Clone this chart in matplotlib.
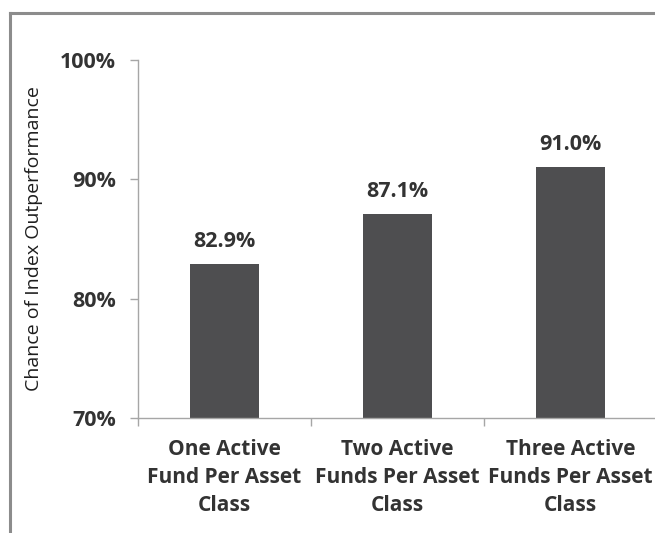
import matplotlib.pyplot as plt
from matplotlib.lines import Line2D
import numpy as np

categories = ["One Active\nFund Per Asset\nClass",
              "Two Active\nFunds Per Asset\nClass",
              "Three Active\nFunds Per Asset\nClass"]
values = [82.9, 87.1, 91.0]
y_ticks = [70, 80, 90, 100]

plt.rcParams['font.family'] = ['Open Sans', 'DejaVu Sans']
text_color = '#333333'
bar_color = '#4e4e50'
axis_color = '#a6a6a6'

fig = plt.figure(figsize=(6.55, 5.33), dpi=100)
ax = fig.add_axes([0.2107, 0.2158, 0.7925, 0.6716])

x = np.arange(len(values))
ax.bar(x, values, width=0.4, color=bar_color, bottom=0)
ax.set_ylim(70, 100)
ax.set_xlim(-0.5, len(values) - 0.5)

for xi, v in zip(x, values):
    ax.text(xi, v + 1.0, f"{v:.1f}%", ha='center', va='bottom',
            fontsize=15.5, fontweight='bold', color=text_color)

ax.set_yticks(y_ticks)
ax.set_yticklabels([f"{t}%" for t in y_ticks], fontsize=15.5,
                   fontweight='bold', color=text_color)
ax.tick_params(axis='y', length=6, width=1, color=axis_color, pad=10)

ax.set_xticks(x)
ax.set_xticklabels(categories, fontsize=15, fontweight='bold',
                   color=text_color, linespacing=1.45)
ax.tick_params(axis='x', which='major', length=0, pad=15)
ax.set_xticks(np.arange(len(values) + 1) - 0.5, minor=True)
ax.tick_params(axis='x', which='minor', length=6, width=1, color=axis_color)

ax.set_ylabel("Chance of Index Outperformance", fontsize=14,
              color='#1e1e1e', labelpad=12)

for side in ['top', 'right']:
    ax.spines[side].set_visible(False)
for side in ['left', 'bottom']:
    ax.spines[side].set_color(axis_color)
    ax.spines[side].set_linewidth(1)

# outer frame (top and left edges visible)
fig.add_artist(Line2D([0.015, 1.0], [0.975, 0.975], color='#8c8c8c', lw=2.2,
                      transform=fig.transFigure))
fig.add_artist(Line2D([0.015, 0.015], [0.0, 0.975], color='#8c8c8c', lw=2.2,
                      transform=fig.transFigure))

fig.savefig('out.png', dpi=100)
